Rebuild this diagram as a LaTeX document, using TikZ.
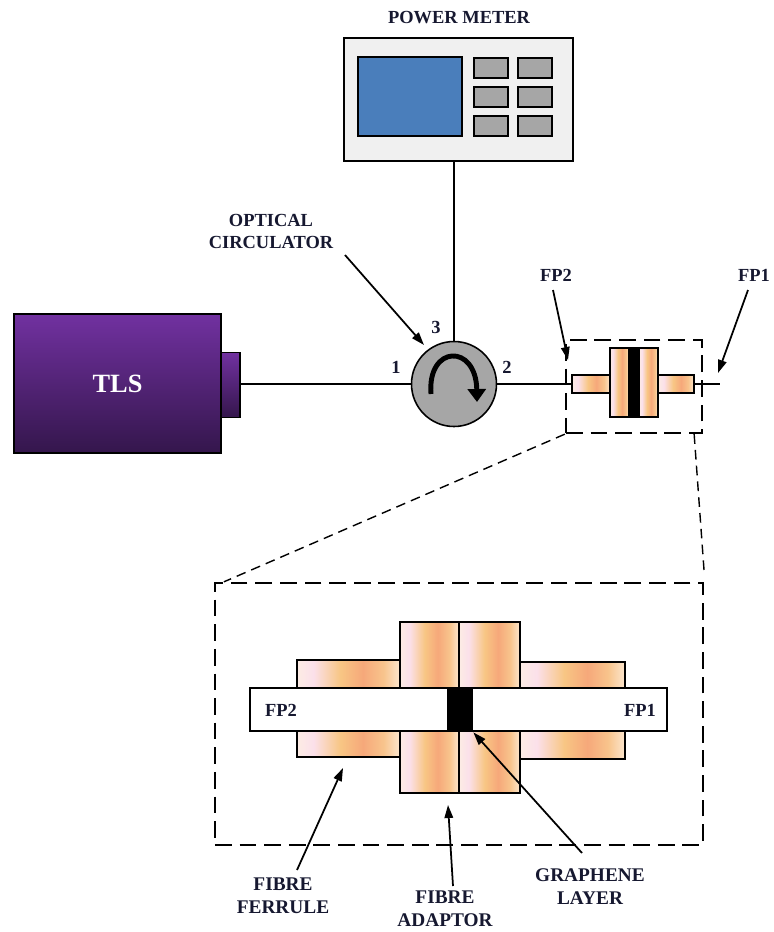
\documentclass[tikz,border=0pt]{standalone}
\usepackage{fontspec}
\setmainfont{Liberation Serif}
\usetikzlibrary{positioning,calc,arrows.meta,shadings}

\definecolor{meterbg}{RGB}{240,240,240}
\definecolor{screenblue}{RGB}{74,126,187}
\definecolor{keygray}{RGB}{166,166,166}
\definecolor{tlstop}{RGB}{113,49,160}
\definecolor{tlsbot}{RGB}{52,22,76}
\definecolor{labelink}{RGB}{22,24,48}
\definecolor{fera}{RGB}{252,236,228}
\definecolor{ferb}{RGB}{251,224,234}
\definecolor{ferc}{RGB}{248,198,132}
\definecolor{ferd}{RGB}{246,168,122}
\definecolor{fere}{RGB}{248,196,140}
\definecolor{ferf}{RGB}{252,230,206}

% copper-ish stripes of the ferrules and the adaptor
\pgfdeclarehorizontalshading{ferrule}{100bp}{color(0bp)=(fera); color(25bp)=(fera);
  color(33bp)=(ferb); color(46bp)=(ferc); color(57bp)=(ferd); color(67bp)=(fere);
  color(75bp)=(ferf); color(100bp)=(ferf)}

\tikzset{
  lbl/.style={font=\bfseries\fontsize{10.5}{12.5}\selectfont, text=labelink, align=center, inner sep=0pt},
  biglbl/.style={lbl, font=\bfseries\fontsize{11}{13}\selectfont},
  pointer/.style={line width=1pt, -{Triangle[length=2.6mm,width=1.7mm]}},
  part/.style={draw, line width=0.6pt, shading=ferrule},
  zoombox/.style={draw, line width=1.3pt, dash pattern=on 9.5pt off 4.5pt},
  zoomline/.style={line width=0.8pt, dash pattern=on 5.5pt off 3.5pt},
  fibre/.style={line width=0.6pt}
}

\begin{document}
\begin{tikzpicture}[x=0.2mm, y=-0.2mm]
    \useasboundingbox (0,0) rectangle (773,932);

    % Power Meter
    \node[draw, line width=1.2pt, fill=meterbg, minimum width=45.8mm, minimum height=24.6mm] (pm) at (458.5,99.5) {};
    \draw[line width=1.2pt, fill=screenblue] (358,57) rectangle (462,136);
    \foreach \bx in {474,518}
        \foreach \by in {58,87,116}
            \draw[line width=1.2pt, fill=keygray] (\bx,\by) rectangle ++(34,20);
    \node[lbl] (pmtitle) at (459,18) {POWER METER};

    % TLS
    \node[draw, line width=1.2pt, top color=tlstop, bottom color=tlsbot, minimum width=41.4mm, minimum height=27.8mm,
          inner sep=0pt, text=white, font=\bfseries\fontsize{15}{18}\selectfont] (tls) at (117.5,383.5) {TLS};
    \node[draw, line width=0.8pt, top color=tlstop, bottom color=tlsbot, minimum width=3.8mm, minimum height=13mm,
          inner sep=0pt] (tlsport) at (230.5,385) {};

    % Optical Circulator
    \node[circle, draw, line width=0.9pt, fill=keygray, minimum size=17mm, inner sep=0pt] (circ) at (454,384) {};
    \draw[line width=2.8pt, -{Triangle[length=2.6mm,width=3.6mm]}] (431,394) .. controls (427,345) and (476,343) .. (477,402);
    \node[lbl] (port1) at (396,367) {1};
    \node[lbl] (port2) at (507,367) {2};
    \node[lbl] (port3) at (436,327) {3};
    \node[lbl] (circlbl) at (271,231) {OPTICAL\\CIRCULATOR};
    \coordinate (circstart) at (345,255);
    \coordinate (circend) at (424,345);
    \draw[pointer] (circstart) -- (circend);

    % Small sample holder
    \node[part, minimum width=7.6mm, minimum height=3.6mm, inner sep=0pt] (sferl) at (591,384) {};
    \node[part, minimum width=7.2mm, minimum height=3.6mm, inner sep=0pt] (sferr) at (676,384) {};
    \draw[part] (610,348) rectangle (629,417);
    \draw[part] (639,348) rectangle (658,417);
    \fill (629,348) rectangle (639,417);
    \draw[line width=0.6pt] (610,348) rectangle (658,417);
    \coordinate (fpend) at (720,384);

    % Fibre
    \draw[fibre] (tlsport.east |- circ.west) -- (circ.west);
    \draw[fibre] (circ.east) -- (sferl.west);
    \draw[fibre] (sferr.east) -- (fpend);
    \draw[fibre] (circ.north) -- (circ.north |- pm.south);

    % FP labels
    \node[lbl] (fp2top) at (556,275) {FP2};
    \node[lbl] (fp1top) at (754,275) {FP1};
    \coordinate (fp2start) at (553,290);
    \coordinate (fp2end) at (568,360);
    \coordinate (fp1start) at (748,290);
    \coordinate (fp1end) at (718,373);
    \draw[pointer] (fp2start) -- (fp2end);
    \draw[pointer] (fp1start) -- (fp1end);

    % Zoom boxes
    \node[zoombox, minimum width=27.2mm, minimum height=18.6mm] (zsmall) at (634,386.5) {};
    \node[zoombox, minimum width=97.6mm, minimum height=52.4mm] (zbig) at (459,714) {};
    \draw[zoomline] (zsmall.south west) -- ([xshift=2mm]zbig.north west);
    \draw[zoomline] ([xshift=-1.8mm]zsmall.south east) -- ([yshift=2mm]zbig.north east);

    % Enlarged holder
    \draw[part] (297,660) rectangle (400,757);
    \draw[part] (520,662) rectangle (625,759);
    \draw[part] (400,622) rectangle (459,793);
    \draw[part] (459,622) rectangle (520,793);
    \draw[line width=1.2pt] (459,622) -- (459,793);
    \node[draw, line width=0.6pt, fill=white, minimum width=83.4mm, minimum height=8.6mm, inner sep=0pt] (fibrebig) at (458.5,709.5) {};
    \node[fill=black, minimum width=5.2mm, minimum height=8.8mm, inner sep=0pt] (graphene) at (460,710) {};
    \node[lbl] (fp2big) at (281,710) {FP2};
    \node[lbl] (fp1big) at (640,710) {FP1};

    % Part labels
    \node[biglbl] (ferlbl) at (283,896) {FIBRE\\FERRULE};
    \node[biglbl] (adplbl) at (445,909) {FIBRE\\ADAPTOR};
    \node[biglbl] (grlbl) at (590,887) {GRAPHENE\\LAYER};
    \coordinate (ferstart) at (297,870);
    \coordinate (ferend) at (343,768);
    \coordinate (adpstart) at (453,886);
    \coordinate (adpend) at (448,805);
    \coordinate (grstart) at (582,853);
    \draw[pointer] (ferstart) -- (ferend);
    \draw[pointer] (adpstart) -- (adpend);
    \draw[pointer] (grstart) -- (graphene.south east);
\end{tikzpicture}
\end{document}
